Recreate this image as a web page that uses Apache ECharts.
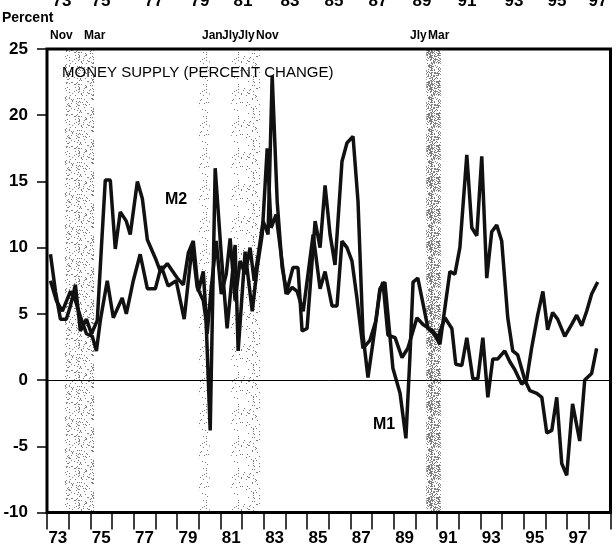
<!DOCTYPE html>
<html><head><meta charset="utf-8">
<script src="https://cdn.jsdelivr.net/npm/echarts@6/dist/echarts.min.js"></script>
<style>html,body{margin:0;padding:0;background:#fff}#c{width:616px;height:553px}</style>
</head><body><div id="c"></div>
<script>
// ---- data ----
const m1Years = [1973.16,1973.43,1973.71,1974.08,1974.31,1974.54,1974.82,1975.09,1975.28,1975.46,1975.78,1976.06,1976.47,1976.66,1976.98,1977.30,1977.63,1978.00,1978.27,1978.59,1978.96,1979.33,1979.70,1979.93,1980.21,1980.34,1980.53,1980.76,1981.04,1981.31,1981.68,1981.82,1982.14,1982.47,1982.70,1982.93,1983.16,1983.34,1983.57,1983.80,1984.03,1984.35,1984.58,1984.77,1985.00,1985.37,1985.60,1985.83,1986.06,1986.29,1986.61,1986.84,1987.12,1987.35,1987.58,1987.81,1988.13,1988.36,1988.59,1988.96,1989.29,1989.56,1989.75,1989.89,1990.11,1990.58,1990.85,1991.13,1991.59,1991.82,1992.05,1992.37,1992.60,1992.83,1993.06,1993.29,1993.52,1993.75,1993.98,1994.26,1994.49,1994.72,1995.05,1995.28,1995.60,1995.83,1996.06,1996.29,1996.52,1996.75,1996.98,1997.25,1997.58,1997.81,1998.13,1998.36];
const m1Values = [7.5,6.0,5.2,6.7,6.0,4.8,3.5,3.3,2.2,4.5,7.5,4.7,6.2,5.0,7.5,9.5,6.9,6.9,8.6,7.1,7.5,4.6,10.2,7.0,6.0,4.5,-3.8,16.0,9.5,3.9,10.2,2.2,9.7,5.2,8.5,11.0,17.5,11.5,12.5,9.5,6.5,8.5,8.5,3.7,3.9,12.0,10.0,14.7,11.0,8.7,16.5,17.9,18.4,13.5,3.4,0.2,3.9,6.9,7.4,0.9,-1.0,-4.4,1.9,7.4,7.7,3.9,3.5,2.7,8.2,8.0,10.0,17.0,11.5,10.9,16.9,7.7,11.2,11.7,10.5,4.7,2.2,1.9,0.0,-0.8,-1.0,-1.3,-4.0,-3.8,-1.3,-6.3,-7.2,-1.8,-4.6,0.0,0.5,2.4];
const m2Years = [1973.16,1973.39,1973.62,1973.89,1974.08,1974.31,1974.54,1974.82,1975.05,1975.32,1975.51,1975.69,1975.92,1976.15,1976.38,1976.66,1976.84,1977.17,1977.40,1977.63,1978.00,1978.23,1978.55,1979.01,1979.29,1979.52,1979.75,1979.98,1980.21,1980.39,1980.58,1980.81,1981.04,1981.27,1981.45,1981.68,1981.91,1982.14,1982.37,1982.56,1982.75,1982.97,1983.20,1983.39,1983.62,1983.85,1984.08,1984.31,1984.54,1984.82,1985.28,1985.60,1985.83,1986.15,1986.38,1986.61,1986.84,1987.07,1987.30,1987.58,1987.90,1988.18,1988.36,1988.50,1988.73,1989.06,1989.38,1989.65,1990.07,1990.35,1990.81,1991.04,1991.36,1991.68,1991.86,1992.14,1992.37,1992.65,1992.88,1993.11,1993.34,1993.57,1993.80,1994.12,1994.35,1994.58,1994.90,1995.13,1995.36,1995.64,1995.88,1996.10,1996.33,1996.56,1996.89,1997.21,1997.44,1997.67,1997.90,1998.13,1998.41];
const m2Values = [9.5,6.7,4.6,4.6,5.6,7.2,3.7,4.6,3.5,4.5,10.0,15.1,15.1,9.9,12.7,12.0,11.0,15.0,13.7,10.6,9.2,8.2,8.8,7.7,7.2,9.6,10.5,6.7,8.2,3.5,7.0,10.5,6.5,8.0,10.7,6.0,9.0,8.0,10.0,7.5,9.5,12.0,11.0,23.0,13.5,8.5,6.5,7.0,6.7,5.2,11.0,6.9,8.2,5.6,5.6,10.5,10.0,9.0,6.2,2.4,3.0,4.5,6.7,7.4,3.4,3.2,1.7,2.4,4.7,4.2,3.7,3.2,4.7,3.9,1.2,1.1,3.2,0.1,0.1,3.2,-1.3,1.6,1.6,2.2,1.4,0.8,-0.3,0.0,2.4,4.9,6.7,3.8,5.1,4.6,3.3,4.2,4.9,4.1,5.2,6.5,7.4];
const recessionStarts = [1973.83, 1980.0, 1981.5, 1990.5];
const recessionEnds   = [1975.17, 1980.5, 1982.83, 1991.17];
const recessionDensity = [0.16, 0.08, 0.07, 0.45];
const recessionWords = ['Nov','Mar','Jan','Jly','Jly','Nov','Jly','Mar'];
const recessionWordX = [50,84,202,222,238,256,410,428];
const xTickLabels = ['73','75','77','79','81','83','85','87','89','91','93','95','97'];
const topCutLabelX = [62,101,154,200,243,290,334,378,422,467,514,557,598];
const yMin = -10, yMax = 25, yStep = 5;

// stipple texture (deterministic hash pattern, purely decorative)
function stipple(density) {
  const n = 32, cv = document.createElement('canvas');
  cv.width = n; cv.height = n;
  const ctx = cv.getContext('2d');
  const img = ctx.createImageData(n, n);
  for (let j = 0; j < n; j++) for (let i = 0; i < n; i++) {
    let h = (i * 374761393 + j * 668265263) | 0;
    h = Math.imul(h ^ (h >>> 13), 1274126177);
    h = (h ^ (h >>> 16)) >>> 0;
    const r = (h % 1000) / 1000;
    const k = (j * n + i) * 4;
    const dark = r < density;
    const g = 80;
    img.data[k] = g; img.data[k+1] = g; img.data[k+2] = g;
    img.data[k+3] = dark ? 190 : 0;
  }
  ctx.putImageData(img, 0, 0);
  return {image: cv, repeat: 'repeat'};
}

const chart = echarts.init(document.getElementById('c'), null, {renderer: 'canvas'});
const FONT = "'Liberation Sans', Arial, Helvetica, sans-serif";

const graphics = [
  {type:'text', left: 2, top: 11, style:{text:'Percent', font:"bold 14px " + FONT, fill:'#000'}},
  {type:'text', left: 62, top: 65, z: 10, style:{text:'MONEY SUPPLY (PERCENT CHANGE)', font:"15px " + FONT, fill:'#000'}},
  {type:'text', left: 165, top: 192, z: 10, style:{text:'M2', font:"bold 16px " + FONT, fill:'#000'}},
  {type:'text', left: 373, top: 417, z: 10, style:{text:'M1', font:"bold 16px " + FONT, fill:'#000'}}
];
recessionWords.forEach((w, i) => {
  graphics.push({type:'text', left: recessionWordX[i], top: 30, style:{text: w, font:"bold 12px " + FONT, fill:'#000'}});
});
xTickLabels.forEach((w, i) => {
  graphics.push({type:'text', x: topCutLabelX[i], y: 1, style:{text: w, font:"bold 17px " + FONT, fill:'#000', align:'center', verticalAlign:'middle'}});
});

const option = {
  animation: false,
  backgroundColor: '#fff',
  grid: {left: 47, right: 5.5, top: 49, bottom: 40.5, show: true, borderColor: '#000', borderWidth: 3, backgroundColor: 'transparent', z: 5},
  xAxis: {
    type: 'value', min: 1973, max: 1999, interval: 1,
    axisLine: {show: false, onZero: false},
    axisTick: {show: true, length: 17, lineStyle: {color: '#000', width: 1.5}},
    splitLine: {show: false},
    axisLabel: {
      margin: 17, color: '#000', fontSize: 17, fontWeight: 'bold', fontFamily: FONT,
      align: 'center', padding: [0, 0, 0, 21.7],
      formatter: v => { const s = String(v).slice(2); return xTickLabels.indexOf(s) >= 0 && v < 1999 ? s : ''; }
    }
  },
  yAxis: {
    type: 'value', min: yMin, max: yMax, interval: yStep,
    axisLine: {show: false},
    axisTick: {show: true, length: 10, lineStyle: {color: '#000', width: 1.5}},
    splitLine: {show: false},
    axisLabel: {margin: 19, color: '#000', fontSize: 17, fontWeight: 'bold', fontFamily: FONT}
  },
  series: [
    {
      type: 'line', name: 'shade', data: [], z: 1, silent: true,
      markArea: {silent: true, data: recessionStarts.map((s, i) => [{xAxis: s, itemStyle: {color: stipple(recessionDensity[i]), opacity: 1}}, {xAxis: recessionEnds[i]}])}
    },
    {
      type: 'line', name: 'M1', data: m1Years.map((y, i) => [y, m1Values[i]]), z: 3,
      symbol: 'none', lineStyle: {color: '#111', width: 3.5}, silent: true,
      markLine: {silent: true, symbol: ['none', 'none'], label: {show: false}, lineStyle: {color: '#000', width: 1, type: 'solid'}, data: [{yAxis: 0}]}
    },
    {
      type: 'line', name: 'M2', data: m2Years.map((y, i) => [y, m2Values[i]]), z: 3,
      symbol: 'none', lineStyle: {color: '#111', width: 3.5}, silent: true
    }
  ],
  graphic: graphics
};
chart.setOption(option);
</script>
</body></html>
